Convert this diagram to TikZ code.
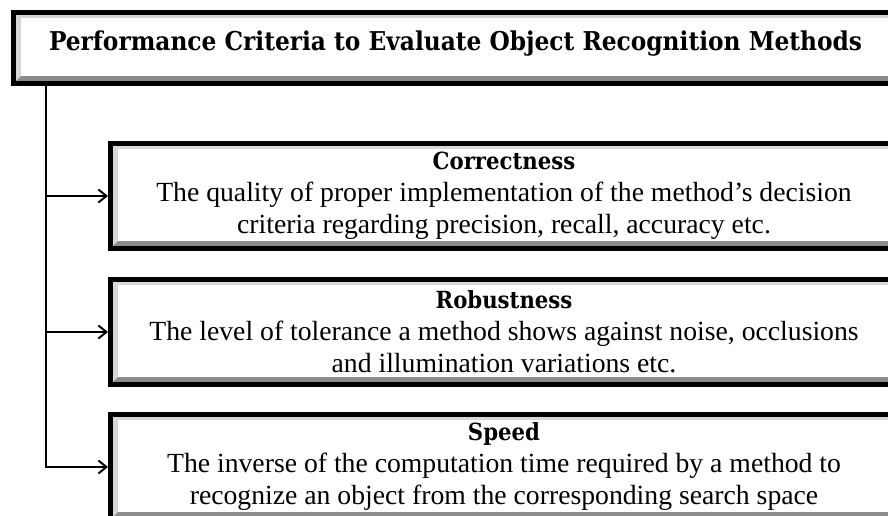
\documentclass[tikz,border=0pt]{standalone}
\usepackage{fontspec}
\setmainfont{Liberation Serif}
\newfontfamily\headfont{DejaVu Serif Condensed}
\usetikzlibrary{arrows.meta,calc}
\definecolor{bevlight}{gray}{0.84}
\definecolor{bevdark}{gray}{0.55}
\tikzset{
  bevelbox/.style={rectangle, draw=black, line width=5pt, fill=white,
    inner sep=0pt, align=center,
    font=\fontsize{27.7}{32}\selectfont,
    path picture={
      \path (path picture bounding box.south west) ++(2.5pt,2.5pt) coordinate (bb-sw);
      \path (path picture bounding box.north east) ++(-2.5pt,-2.5pt) coordinate (bb-ne);
      \fill[bevlight] (bb-sw) rectangle (bb-ne);
      \fill[bevdark] (bb-sw) -- (bb-sw -| bb-ne) -- (bb-ne)
        -- ($(bb-ne)+(-5pt,-2.5pt)$) -- ($(bb-sw -| bb-ne)+(-5pt,5pt)$)
        -- ($(bb-sw)+(5pt,5pt)$) -- cycle;
      \fill[white] ($(bb-sw)+(5pt,5pt)$) rectangle ($(bb-ne)+(-5pt,-2.5pt)$);
    }},
  critbox/.style={bevelbox, minimum width=787pt, minimum height=105pt},
  conn/.style={line width=2pt, -{Straight Barb[length=8pt,width=13pt]}},
}
\newcommand{\crithead}[1]{{\headfont\bfseries\fontsize{23.6}{26}\selectfont #1}}
\begin{document}
\begin{tikzpicture}[x=1pt,y=-1pt]
\useasboundingbox (0,0) rectangle (888,515);
\clip (0,0) rectangle (888,515);

\node[bevelbox, minimum width=884pt, minimum height=71pt] (title) at (455.5,48)
  {\raisebox{-2pt}[0pt][0pt]{\headfont\bfseries\fontsize{25.9}{30}\selectfont
   Performance Criteria to Evaluate Object Recognition Methods}};

\node[critbox] (correct) at (504,196)
  {\crithead{Correctness}\\
   The quality of proper implementation of the method’s decision\\
   criteria regarding precision, recall, accuracy etc.};

\node[critbox] (robust) at (504,332)
  {\crithead{Robustness}\\
   The level of tolerance a method shows against noise, occlusions\\
   and illumination variations etc.};

\node[critbox] (speed) at (504,467)
  {\crithead{Speed}\\
   The inverse of the computation time required by a method to\\
   recognize an object from the corresponding search space};

\coordinate (trunk) at ([xshift=35pt]title.south west);
\draw[conn] (trunk) |- (speed.west);
\draw[conn] (trunk |- correct.west) -- (correct.west);
\draw[conn] (trunk |- robust.west) -- (robust.west);
\end{tikzpicture}
\end{document}
